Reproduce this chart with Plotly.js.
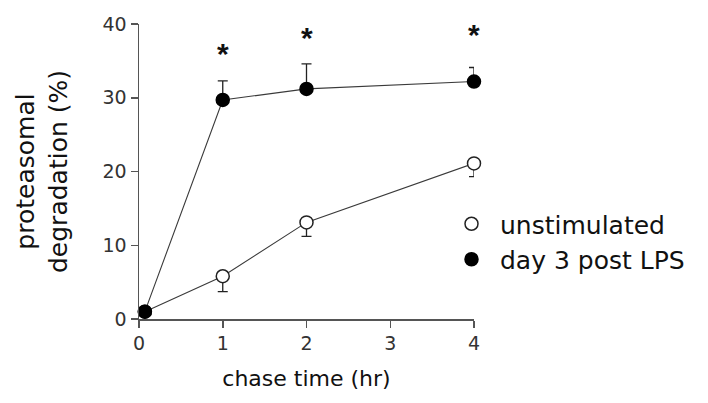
<!DOCTYPE html>
<html>
<head>
<meta charset="utf-8">
<script src="https://cdn.plot.ly/plotly-3.0.1.min.js"></script>
<style>html,body{margin:0;padding:0;background:#fff;}#chart{width:708px;height:403px;}</style>
</head>
<body>
<div id="chart"></div>
<script>
// Data
const timeUnstim = [0.07, 1, 2, 4];
const valUnstim = [1.0, 5.8, 13.1, 21.1];
const errUnstim = [0, 2.1, 1.9, 1.8];

const timeLPS = [0.07, 1, 2, 4];
const valLPS = [1.0, 29.7, 31.2, 32.2];
const errLPS = [0, 2.6, 3.4, 1.9];

const starTimes = [1, 2, 4];
const starValues = [36.0, 38.2, 38.6];

const xTicks = [0, 1, 2, 3, 4];
const yTicks = [0, 10, 20, 30, 40];

const FONT = 'DejaVu Sans, Verdana, sans-serif';
const lineColor = '#3a3a3a';

const traces = [
  {x: timeUnstim, y: valUnstim, mode: 'lines', line: {color: lineColor, width: 1.1}, showlegend: false, hoverinfo: 'skip', cliponaxis: false},
  {x: timeLPS, y: valLPS, mode: 'lines', line: {color: lineColor, width: 1.1}, showlegend: false, hoverinfo: 'skip', cliponaxis: false},
  {x: timeUnstim, y: valUnstim, mode: 'markers', name: 'unstimulated', legendgroup: 'a', cliponaxis: false,
   marker: {size: 13, color: '#fff', line: {color: '#222', width: 1.5}},
   error_y: {type: 'data', symmetric: false, array: errUnstim.map(() => 0), arrayminus: errUnstim, color: '#222', thickness: 1.3, width: 5}},
  {x: timeLPS, y: valLPS, mode: 'markers', name: 'day 3 post LPS', legendgroup: 'b', cliponaxis: false,
   marker: {size: 13, color: '#000', line: {color: '#000', width: 1.5}},
   error_y: {type: 'data', symmetric: false, array: errLPS, arrayminus: errLPS.map(() => 0), color: '#222', thickness: 1.3, width: 5}}
];

const annotations = starTimes.map((t, i) => ({
  x: t, y: starValues[i], xref: 'x', yref: 'y', text: '<b>*</b>', showarrow: false,
  font: {family: 'Liberation Sans, Arial, sans-serif', size: 30, color: '#111'}
}));

const layout = {
  width: 708, height: 403,
  margin: {l: 139, r: 234, t: 24, b: 84},
  paper_bgcolor: '#fff', plot_bgcolor: '#fff',
  font: {family: FONT, color: '#222'},
  xaxis: {
    range: [0, 4], tickvals: xTicks, ticktext: xTicks.map(String),
    showgrid: false, zeroline: false, showline: true, linecolor: '#555', linewidth: 1.5,
    ticks: 'outside', ticklen: 7, tickcolor: '#555', tickwidth: 1.5,
    tickfont: {size: 19, color: '#333'},
    title: {text: 'chase time (hr)', font: {size: 22, color: '#111'}, standoff: 17}
  },
  yaxis: {
    range: [0, 40], tickvals: yTicks, ticktext: yTicks.map(String),
    showgrid: false, zeroline: false, showline: true, linecolor: '#555', linewidth: 1.5,
    ticks: 'outside', ticklen: 7, tickcolor: '#555', tickwidth: 1.5,
    tickfont: {size: 19, color: '#333'},
    title: {text: 'proteasomal<br>degradation (%)', font: {size: 25, color: '#111'}, standoff: 28}
  },
  legend: {
    x: (443 - 139) / 335, xanchor: 'left', y: 1 - (201 - 24) / 295, yanchor: 'top',
    font: {size: 25, color: '#111'}, itemwidth: 47,
    traceorder: 'grouped', tracegroupgap: 0, bgcolor: 'rgba(0,0,0,0)'
  },
  annotations: annotations
};

Plotly.newPlot('chart', traces, layout, {displayModeBar: false, staticPlot: true});
</script>
</body>
</html>
